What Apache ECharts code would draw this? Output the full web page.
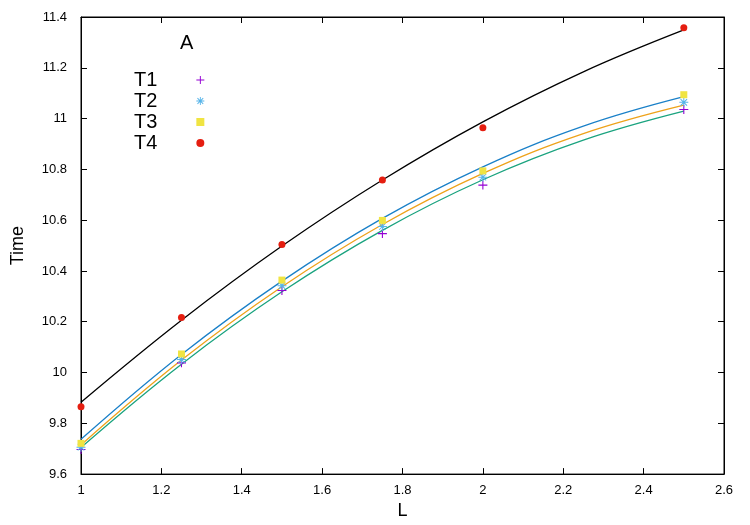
<!DOCTYPE html>
<html><head><meta charset="utf-8">
<script src="https://cdn.jsdelivr.net/npm/echarts@6/dist/echarts.min.js"></script>
<style>html,body{margin:0;padding:0;background:#fff}#c{width:750px;height:525px}</style>
</head><body><div id="c"></div>
<script>
// measured points
const lValues = [1, 1.25, 1.5, 1.75, 2, 2.5];
const t1 = [9.697, 10.038, 10.323, 10.547, 10.738, 11.036];
const t2 = [9.706, 10.051, 10.342, 10.575, 10.769, 11.064];
const t3 = [9.721, 10.073, 10.364, 10.599, 10.794, 11.094];
const t4 = [9.865, 10.217, 10.504, 10.758, 10.964, 11.358];
// fitted curves
const fitL = [1, 1.25, 1.5, 1.75, 2, 2.25, 2.5];
const fit1 = [9.705, 10.033, 10.318, 10.560, 10.759, 10.915, 11.029];
const fit2 = [9.715, 10.049, 10.338, 10.583, 10.784, 10.941, 11.053];
const fit3 = [9.737, 10.071, 10.360, 10.607, 10.810, 10.970, 11.086];
const fit4 = [9.883, 10.206, 10.498, 10.758, 10.987, 11.184, 11.349];
const seriesNames = ['T1', 'T2', 'T3', 'T4'];
const xTickMin = 1, xTickMax = 2.6, xTickStep = 0.2;
const yTickMin = 9.6, yTickMax = 11.4, yTickStep = 0.2;

const pair = (xs, ys) => xs.map((x, i) => [x, ys[i]]);
const FONT = 'Liberation Sans';
const plusPath = 'path://M-0.12,-1 L0.12,-1 L0.12,-0.12 L1,-0.12 L1,0.12 L0.12,0.12 L0.12,1 L-0.12,1 L-0.12,0.12 L-1,0.12 L-1,-0.12 L-0.12,-0.12 Z';
const starPath = 'path://M-0.11,-1 L0.11,-1 L0.11,1 L-0.11,1 Z M-1,-0.11 L1,-0.11 L1,0.11 L-1,0.11 Z M-0.8,-0.64 L-0.64,-0.8 L0.8,0.64 L0.64,0.8 Z M0.64,-0.8 L0.8,-0.64 L-0.64,0.8 L-0.8,0.64 Z';

const chart = echarts.init(document.getElementById('c'), null, {renderer: 'canvas'});
const axisCommon = {
  type: 'value',
  axisLine: {show: true, onZero: false, lineStyle: {color: '#000', width: 1}},
  axisTick: {show: true, inside: true, length: 6, lineStyle: {color: '#000', width: 1}},
  splitLine: {show: false}
};
const lineSeries = (name, data, color) => ({
  name, type: 'line', data, smooth: 0.4, symbol: 'none', z: 1,
  lineStyle: {color, width: 1.3}, itemStyle: {color}, silent: true, animation: false
});
const scatterSeries = (name, data, symbol, size, color) => ({
  name, type: 'scatter', data, symbol, symbolSize: size, z: 3,
  itemStyle: {color, opacity: 1}, animation: false
});
chart.setOption({
  animation: false,
  backgroundColor: '#fff',
  textStyle: {fontFamily: FONT},
  grid: {left: 81, right: 26, top: 17, bottom: 48, show: true, borderColor: '#000', borderWidth: 1},
  title: {text: 'A', left: 180, top: 33, padding: 0,
    textStyle: {fontFamily: FONT, fontSize: 20, fontWeight: 'normal', color: '#000'}},
  legend: {
    data: seriesNames, orient: 'vertical', left: 134, top: 70, padding: 0,
    align: 'right', itemWidth: 8, itemHeight: 8, itemGap: 1,
    textStyle: {fontFamily: FONT, fontSize: 20, color: '#000', lineHeight: 16, padding: [0, 34, 0, 0]}
  },
  xAxis: [
    Object.assign({}, axisCommon, {min: xTickMin, max: xTickMax, interval: xTickStep, position: 'bottom',
      name: 'L', nameLocation: 'middle', nameGap: 26,
      nameTextStyle: {fontFamily: FONT, fontSize: 18, color: '#000'},
      axisLabel: {fontFamily: FONT, fontSize: 13, color: '#000', margin: 10}}),
    Object.assign({}, axisCommon, {min: xTickMin, max: xTickMax, interval: xTickStep, position: 'top',
      axisLabel: {show: false}})
  ],
  yAxis: [
    Object.assign({}, axisCommon, {min: yTickMin, max: yTickMax, interval: yTickStep, position: 'left',
      name: 'Time', nameLocation: 'middle', nameGap: 54,
      nameTextStyle: {fontFamily: FONT, fontSize: 18, color: '#000'},
      axisLabel: {fontFamily: FONT, fontSize: 13, color: '#000', margin: 14}}),
    Object.assign({}, axisCommon, {min: yTickMin, max: yTickMax, interval: yTickStep, position: 'right',
      axisLabel: {show: false}})
  ],
  series: [
    lineSeries('fit T1', pair(fitL, fit1), '#1aa37f'),
    lineSeries('fit T2', pair(fitL, fit2), '#eea21a'),
    lineSeries('fit T3', pair(fitL, fit3), '#1a80c8'),
    lineSeries('fit T4', pair(fitL, fit4), '#000000'),
    scatterSeries('T1', pair(lValues, t1), plusPath, 9, '#9400d3'),
    scatterSeries('T2', pair(lValues, t2), starPath, 9, '#56b4e9'),
    scatterSeries('T3', pair(lValues, t3), 'rect', 7, '#f0e442'),
    scatterSeries('T4', pair(lValues, t4), 'circle', 7, '#e51e10')
  ]
});
</script></body></html>
